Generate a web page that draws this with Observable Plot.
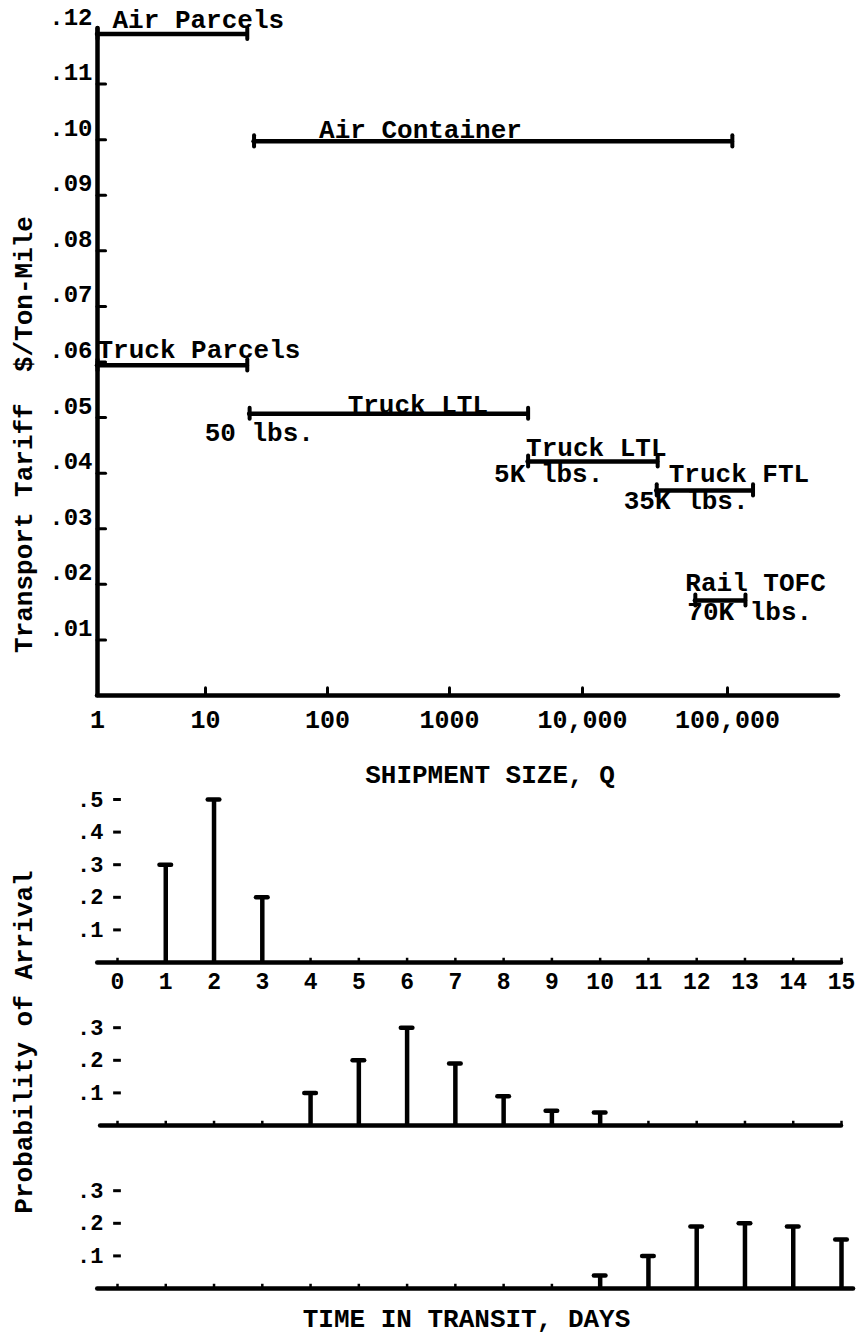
<!DOCTYPE html>
<html><head><meta charset="utf-8">
<script src="https://cdn.jsdelivr.net/npm/d3@7"></script>
<script src="https://cdn.jsdelivr.net/npm/@observablehq/plot@0.6"></script>
<style>
body{margin:0;background:#fff;}
#wrap{position:relative;width:865px;height:1336px;overflow:hidden;background:#fff;}
#wrap svg{position:absolute;left:0;}
</style></head><body><div id="wrap"></div>
<script>
// ---------- Top chart data: transport tariff vs shipment size ----------
const modes      = ["Air Parcels", "Air Container", "Truck Parcels", "Truck LTL", "Truck LTL", "Truck FTL", "Rail TOFC"];
const sizeFrom   = [1, 25, 1, 23, 3900, 32500, 60000];
const sizeTo     = [22, 108000, 22, 3900, 33000, 150000, 133000];
const tariff     = [0.119, 0.0997, 0.0594, 0.0507, 0.0421, 0.0369, 0.0171];
const minSizeLabel = ["", "", "", "50 lbs.", "5K lbs.", "35K lbs.", "70K lbs."];
const sizeTicks      = [1, 10, 100, 1000, 10000, 100000];
const sizeTickLabels = ["1", "10", "100", "1000", "10,000", "100,000"];
const tariffTicks      = [0.01, 0.02, 0.03, 0.04, 0.05, 0.06, 0.07, 0.08, 0.09, 0.10, 0.11, 0.12];
const tariffTickLabels = [".01", ".02", ".03", ".04", ".05", ".06", ".07", ".08", ".09", ".10", ".11", ".12"];

// ---------- Bottom chart data: probability of arrival by day ----------
const panels = ["A", "B", "C"];
const dayTicks = [0, 1, 2, 3, 4, 5, 6, 7, 8, 9, 10, 11, 12, 13, 14, 15];
const daysA = [1, 2, 3];
const probA = [0.30, 0.50, 0.20];
const daysB = [4, 5, 6, 7, 8, 9, 10];
const probB = [0.10, 0.20, 0.30, 0.19, 0.09, 0.045, 0.04];
const daysC = [10, 11, 12, 13, 14, 15];
const probC = [0.04, 0.10, 0.19, 0.20, 0.19, 0.15];
const probTicksA = [0.1, 0.2, 0.3, 0.4, 0.5];
const probTickLabelsA = [".1", ".2", ".3", ".4", ".5"];
const probTicksBC = [0.1, 0.2, 0.3];
const probTickLabelsBC = [".1", ".2", ".3"];

// ---------- styling ----------
const FONT = "Liberation Mono, Courier New, monospace";
const txt = (o) => ({fontFamily: FONT, fontWeight: "bold", fill: "black", ...o});
const wrap = document.getElementById("wrap");

// ===== Top chart =====
const segs = modes.map((m, i) => ({mode: m, from: sizeFrom[i], to: sizeTo[i], tariff: tariff[i], size: minSizeLabel[i]}));
const nameOffset = [[15, -6], [65, -3], [0, -7], [98, -1], [-2, -5], [12, -8], [-10, -9]];
const sizeOffset = [null, null, null, [-45, 27], [-34, 21], [-33, 19], [-8, 20]];

const nameMarks = segs.map((s, i) => Plot.text([s], txt({
  x: "from", y: "tariff", text: "mode", textAnchor: "start", lineAnchor: "bottom",
  dx: nameOffset[i][0], dy: nameOffset[i][1], fontSize: 26
})));
const sizeMarks = segs.map((s, i) => sizeOffset[i] ? Plot.text([s], txt({
  x: "from", y: "tariff", text: "size", textAnchor: "start", lineAnchor: "bottom",
  dx: sizeOffset[i][0], dy: sizeOffset[i][1], fontSize: 26
})) : null).filter(Boolean);

const tariffChart = Plot.plot({
  width: 865, height: 790,
  marginLeft: 97, marginRight: 27, marginTop: 28, marginBottom: 95,
  style: "background: transparent; overflow: visible;",
  x: {type: "log", domain: [1, 10, 100, 1000, 10000, 100000, 583000], range: [97, 205, 327, 449, 582, 727, 838], axis: null},
  y: {domain: [0, 0.12], axis: null},
  marks: [
    Plot.ruleX([1], {y1: 0, y2: 0.12, strokeWidth: 4.5, stroke: "black", strokeLinecap: "round"}),
    Plot.ruleY([0], {x1: 1, x2: 583000, strokeWidth: 4.5, stroke: "black", strokeLinecap: "round"}),
    Plot.ruleY(tariffTicks.slice(0, 11), {x1: 1, x2: 1.2, strokeWidth: 3, stroke: "black", strokeLinecap: "round"}),
    Plot.ruleX(sizeTicks.slice(1), {y1: 0, y2: 0.0013, strokeWidth: 3, stroke: "black", strokeLinecap: "round"}),
    Plot.text(tariffTicks, txt({y: d => d, text: (d, i) => tariffTickLabels[i], frameAnchor: "left",
      textAnchor: "end", lineAnchor: "bottom", dx: -5, dy: -4, fontSize: 24})),
    Plot.text(sizeTicks, txt({x: d => d, text: (d, i) => sizeTickLabels[i], frameAnchor: "bottom",
      lineAnchor: "bottom", dy: 32, fontSize: 25})),
    Plot.ruleY(segs, {y: "tariff", x1: "from", x2: "to", strokeWidth: 4.5, stroke: "black", strokeLinecap: "round"}),
    Plot.ruleX(segs, {x: "from", y1: d => d.tariff - 0.001, y2: d => d.tariff + 0.001, strokeWidth: 4, stroke: "black", strokeLinecap: "round"}),
    Plot.ruleX(segs, {x: "to", y1: d => d.tariff - 0.001, y2: d => d.tariff + 0.001, strokeWidth: 4, stroke: "black", strokeLinecap: "round"}),
    ...nameMarks,
    ...sizeMarks,
    Plot.text(["SHIPMENT SIZE, Q"], txt({frameAnchor: "bottom", lineAnchor: "bottom", dx: 22, dy: 87, fontSize: 26})),
    Plot.text(["Transport Tariff  $/Ton-Mile"], txt({frameAnchor: "left", rotate: -90, lineAnchor: "bottom",
      textAnchor: "middle", dx: -66, dy: 72.5, fontSize: 26}))
  ]
});
tariffChart.style.top = "0px";
wrap.appendChild(tariffChart);

// ===== Bottom chart (three facets) =====
const stems = [
  ...daysA.map((d, i) => ({panel: "A", day: d, p: probA[i]})),
  ...daysB.map((d, i) => ({panel: "B", day: d, p: probB[i]})),
  ...daysC.map((d, i) => ({panel: "C", day: d, p: probC[i]}))
];
const yTickRows = [
  ...probTicksA.map((v, i) => ({panel: "A", v, label: probTickLabelsA[i]})),
  ...probTicksBC.map((v, i) => ({panel: "B", v, label: probTickLabelsBC[i]})),
  ...probTicksBC.map((v, i) => ({panel: "C", v, label: probTickLabelsBC[i]}))
];
const tickRows = panels.flatMap(p => dayTicks.map(d => ({panel: p, day: d})));
const baseRows = [
  {panel: "A", x1: -0.41, x2: 15},
  {panel: "B", x1: -0.35, x2: 15},
  {panel: "C", x1: -0.41, x2: 15.25}
];

const arrivalChart = Plot.plot({
  width: 865, height: 546,
  marginLeft: 117, marginRight: 24, marginTop: 8, marginBottom: 47.5,
  style: "background: transparent; overflow: visible;",
  x: {domain: [0, 15], axis: null},
  y: {domain: [0, 0.5], axis: null},
  fy: {domain: panels, padding: 0, axis: null},
  marks: [
    Plot.ruleY(baseRows, {fy: "panel", y: 0, x1: "x1", x2: "x2", strokeWidth: 4.5, stroke: "black", strokeLinecap: "round"}),
    Plot.ruleX(tickRows, {fy: "panel", x: "day", y1: 0, y2: 0.013, strokeWidth: 2.5, stroke: "black"}),
    Plot.ruleX(stems, {fy: "panel", x: "day", y1: 0, y2: "p", strokeWidth: 4.5, stroke: "black"}),
    Plot.ruleY(stems, {fy: "panel", y: "p", x1: d => d.day - 0.12, x2: d => d.day + 0.12, strokeWidth: 4.5, stroke: "black", strokeLinecap: "round"}),
    Plot.ruleY(yTickRows, {fy: "panel", y: "v", x1: -0.08, x2: 0.08, strokeWidth: 3, stroke: "black"}),
    Plot.text(yTickRows, txt({fy: "panel", y: "v", text: "label", frameAnchor: "left", textAnchor: "end",
      lineAnchor: "middle", dx: -14, fontSize: 22})),
    Plot.text(dayTicks, txt({fy: () => "A", x: d => d, y: 0, text: d => String(d), lineAnchor: "bottom", dy: 26, fontSize: 23})),
    Plot.text(["Probability of Arrival"], txt({fy: ["B"], frameAnchor: "left", rotate: -90, lineAnchor: "bottom",
      textAnchor: "middle", dx: -86, dy: -2, fontSize: 26})),
    Plot.text(["TIME IN TRANSIT, DAYS"], txt({fy: ["C"], frameAnchor: "bottom", lineAnchor: "bottom", dx: -13, dy: 38.5, fontSize: 26}))
  ]
});
arrivalChart.style.top = "790px";
wrap.appendChild(arrivalChart);
</script></body></html>
